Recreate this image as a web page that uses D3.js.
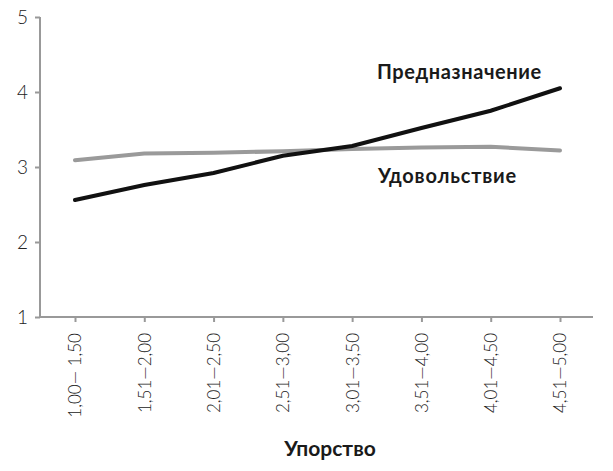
<!DOCTYPE html>
<html>
<head>
<meta charset="utf-8">
<title>Упорство</title>
<script src="https://cdn.jsdelivr.net/npm/d3@7"></script>
<style>
  body { margin: 0; background: #fff; }
  .tick text { font-family: Lato, "Open Sans", sans-serif; font-weight: 300; fill: #222; }
  .lbl { font-family: Lato, "Open Sans", sans-serif; font-weight: 700; fill: #1a1a1a; }
</style>
</head>
<body>
<script>
  // categories along the bottom (Упорство ranges)
  var categories = ["1,00— 1,50", "1,51—2,00", "2,01—2,50", "2,51—3,00",
                    "3,01—3,50", "3,51—4,00", "4,01—4,50", "4,51—5,00"]
  // series
  var purpose = [2.56, 2.76, 2.92, 3.15, 3.28, 3.52, 3.75, 4.05]   // Предназначение
  var pleasure = [3.09, 3.18, 3.19, 3.21, 3.24, 3.26, 3.27, 3.22]  // Удовольствие
  var yTicks = [1, 2, 3, 4, 5]

  var width = 613, height = 471
  var margin = {top: 17, right: 20, bottom: 154, left: 40}

  var svg = d3.select("body").append("svg")
    .attr("width", width).attr("height", height)

  var x = d3.scalePoint().domain(categories)
    .range([75, 560])
  var y = d3.scaleLinear().domain([1, 5])
    .range([height - margin.bottom, margin.top])

  // y axis
  var yAxis = d3.axisLeft(y).tickValues(yTicks).tickFormat(d3.format("d"))
    .tickSize(5).tickPadding(7)
  var gy = svg.append("g")
    .attr("transform", "translate(" + margin.left + ",0)")
    .call(yAxis)
  gy.select(".domain").attr("stroke", "#999").attr("stroke-width", 2)
    .attr("d", "M0," + y(5) + "V" + y(1))
  gy.selectAll(".tick line").attr("stroke", "#999").attr("stroke-width", 2)
  gy.selectAll(".tick text").attr("font-size", 19)

  // x axis
  var xAxis = d3.axisBottom(x).tickSize(5).tickPadding(10)
  var gx = svg.append("g")
    .attr("transform", "translate(0," + y(1) + ")")
    .call(xAxis)
  gx.select(".domain").attr("stroke", "#999").attr("stroke-width", 2)
    .attr("d", "M" + margin.left + ",0H" + (width - margin.right))
  gx.selectAll(".tick line").attr("stroke", "#999").attr("stroke-width", 2)
  gx.selectAll(".tick text")
    .attr("font-size", 17)
    .attr("transform", "rotate(-90)")
    .attr("text-anchor", "end")
    .attr("dy", "0.35em")
    .attr("x", -16)
    .attr("y", 0)

  var line = d3.line()
    .x(function(d, i) { return x(categories[i]) })
    .y(function(d) { return y(d) })

  svg.append("path").datum(pleasure)
    .attr("d", line)
    .attr("fill", "none")
    .attr("stroke", "#9a9a9a")
    .attr("stroke-width", 4)
    .attr("stroke-linecap", "round")

  svg.append("path").datum(purpose)
    .attr("d", line)
    .attr("fill", "none")
    .attr("stroke", "#111")
    .attr("stroke-width", 4)
    .attr("stroke-linecap", "round")

  // series labels
  svg.append("text").attr("class", "lbl")
    .attr("x", 377).attr("y", 79).attr("font-size", 20)
    .attr("letter-spacing", 0.6)
    .text("Предназначение")
  svg.append("text").attr("class", "lbl")
    .attr("x", 378).attr("y", 183).attr("font-size", 20)
    .attr("letter-spacing", 0.8)
    .text("Удовольствие")

  // x axis title
  svg.append("text").attr("class", "lbl")
    .attr("x", 330).attr("y", 456).attr("font-size", 21)
    .attr("text-anchor", "middle")
    .text("Упорство")
</script>
</body>
</html>
